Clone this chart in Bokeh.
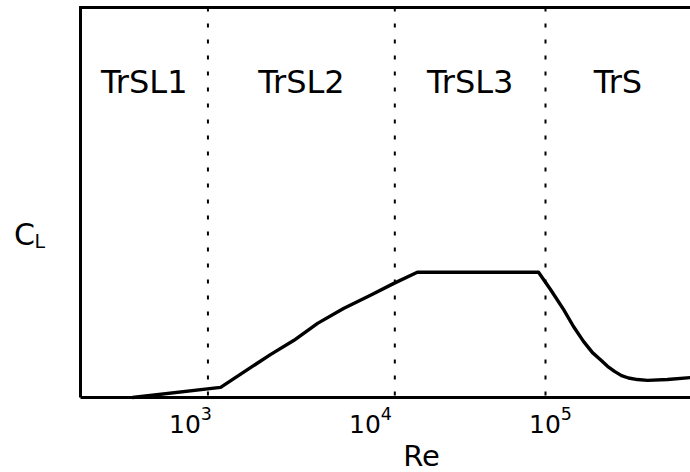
from bokeh.plotting import figure
from bokeh.models import Range1d, FixedTicker, ColumnDataSource
from bokeh.core.properties import value
from bokeh.embed import file_html
from bokeh.resources import INLINE
import numpy as np

# Lift coefficient vs Reynolds number (schematic)
re_values = [476, 1470, 2780, 3740, 5080, 7080, 10000, 13400, 18200, 85800,
             100000, 118100, 134200, 152500, 171100, 189600, 207400, 226800,
             248000, 271300, 304300, 345900, 446700, 599500]
cl_values = [0.000, 0.026, 0.110, 0.146, 0.190, 0.228, 0.262, 0.292, 0.321,
             0.321, 0.277, 0.226, 0.182, 0.144, 0.115, 0.097, 0.080, 0.067,
             0.056, 0.050, 0.046, 0.044, 0.046, 0.051]

# Flow regime boundaries and names
boundaries = [1250, 13650, 93800]
regimes = ["TrSL1", "TrSL2", "TrSL3", "TrS"]

x_ticks = [1e3, 1e4, 1e5]

FONT = "DejaVu Sans"

# Axis extents (data units) and the surrounding view
re_min, re_max = 245, 5.995e5
cl_min, cl_max = 0.0, 1.0

p = figure(width=690, height=472, x_axis_type="log",
           x_range=Range1d(88.0, re_max), y_range=Range1d(-0.1923, 1.0179),
           output_backend="svg", toolbar_location=None,
           min_border=0)
p.outline_line_color = None
p.grid.visible = False
p.background_fill_color = "white"
p.border_fill_color = "white"

# Bottom (log) axis pinned at CL = 0
xa = p.xaxis[0]
xa.fixed_location = cl_min
xa.bounds = (re_min, re_max)
xa.ticker = FixedTicker(ticks=x_ticks)
xa.minor_tick_line_color = None
xa.major_tick_line_color = None
xa.major_tick_in = 0
xa.major_tick_out = 0
xa.axis_line_width = 3
xa.major_label_text_font = FONT
xa.major_label_text_font_size = "25px"
xa.major_label_text_color = "black"
xa.major_label_standoff = 9

# Left axis: a plain line pinned at the lowest Re, no ticks or labels
ya = p.yaxis[0]
ya.fixed_location = re_min
ya.bounds = (cl_min, cl_max)
ya.ticker = FixedTicker(ticks=[])
ya.major_tick_line_color = None
ya.minor_tick_line_color = None
ya.major_tick_in = 0
ya.major_tick_out = 0
ya.axis_line_width = 3

# Top frame line
p.line([re_min, re_max], [cl_max, cl_max], line_color="black",
       line_width=3, line_cap="square")

# Regime boundaries
p.segment(x0=boundaries, y0=[cl_max] * len(boundaries),
          x1=boundaries, y1=[cl_min] * len(boundaries),
          line_color="black", line_width=2, line_dash="4 12")

# Regime names centred (in log space) between boundaries
edges = [re_min] + boundaries + [re_max]
label_x = [float(np.sqrt(edges[i] * edges[i + 1])) for i in range(len(regimes))]
src = ColumnDataSource(dict(x=label_x, y=[0.808] * len(regimes), t=regimes))
p.text(x="x", y="y", text="t", source=src, text_align="center",
       text_baseline="middle", text_font=value(FONT),
       text_font_size="32px", text_color="black")

# Curve
p.line(re_values, cl_values, line_color="black", line_width=3.4,
       line_join="round", line_cap="butt")

# Axis titles
p.text(x=[19200], y=[-0.15], text=["Re"], text_align="center",
       text_baseline="middle", text_font=value(FONT),
       text_font_size="29px", text_color="black")
p.text(x=[104.6], y=[0.418], text=["C"], text_align="left",
       text_baseline="middle", text_font=value(FONT),
       text_font_size="30px", text_color="black")
p.text(x=[135.9], y=[0.401], text=["L"], text_align="left",
       text_baseline="middle", text_font=value(FONT),
       text_font_size="19px", text_color="black")

open("out.html", "w").write(file_html(p, INLINE))
